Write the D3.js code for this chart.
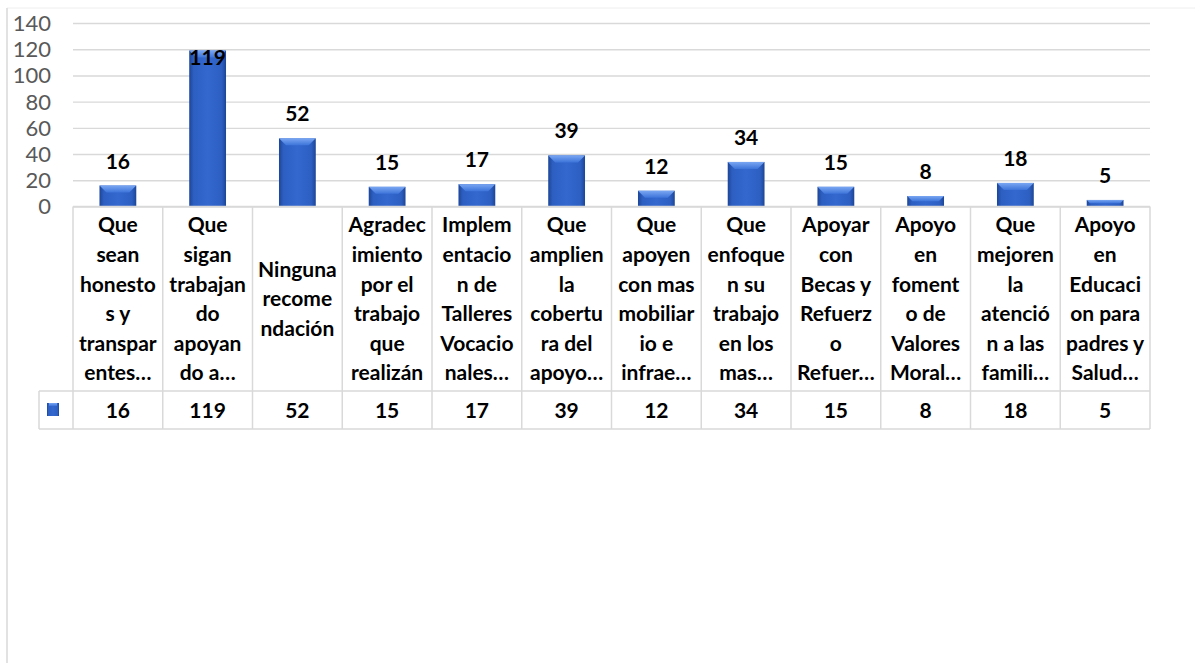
<!DOCTYPE html>
<html>
<head>
<meta charset="utf-8">
<script src="https://cdn.jsdelivr.net/npm/d3@7"></script>
<style>
  html, body { margin: 0; padding: 0; background: #fff; }
  svg { display: block; font-family: Lato, "Open Sans", sans-serif; }
  .y.axis text { fill: #595959; font-size: 22px; font-family: Lato, "Open Sans", sans-serif; }
  .y.axis .domain { display: none; }
  .y.axis line { stroke: #d9d9d9; stroke-width: 1.4; }
  .cat { font-size: 21px; font-weight: bold; fill: #000; }
  .val { font-size: 21px; font-weight: bold; fill: #000; }
  .grid-line { stroke: #d9d9d9; stroke-width: 1.5; fill: none; }
</style>
</head>
<body>
<div id="chart"></div>
<script>
  // categories as they are wrapped and cut in the table header
  var categories = [
    ["Que", "sean", "honesto", "s y", "transpar", "entes…"],
    ["Que", "sigan", "trabajan", "do", "apoyan", "do a…"],
    ["Ninguna", "recome", "ndación"],
    ["Agradec", "imiento", "por el", "trabajo", "que", "realizán"],
    ["Implem", "entacio", "n de", "Talleres", "Vocacio", "nales…"],
    ["Que", "amplien", "la", "cobertu", "ra del", "apoyo…"],
    ["Que", "apoyen", "con mas", "mobiliar", "io e", "infrae…"],
    ["Que", "enfoque", "n su", "trabajo", "en los", "mas…"],
    ["Apoyar", "con", "Becas y", "Refuerz", "o", "Refuer…"],
    ["Apoyo", "en", "foment", "o de", "Valores", "Moral…"],
    ["Que", "mejoren", "la", "atenció", "n a las", "famili…"],
    ["Apoyo", "en", "Educaci", "on para", "padres y", "Salud…"]
  ];
  var values = [16, 119, 52, 15, 17, 39, 12, 34, 15, 8, 18, 5];
  var yTicks = [0, 20, 40, 60, 80, 100, 120, 140];

  var W = 1195, H = 663;
  var plot = {left: 73, right: 1150, top: 23, bottom: 206.5};
  var table = {top: 206.5, header: 391, bottom: 429, keyLeft: 39};

  var svg = d3.select("#chart").append("svg")
      .attr("width", W)
      .attr("height", H);

  // gradients for the bevelled bars
  var defs = svg.append("defs");
  var side = defs.append("linearGradient").attr("id", "barSide")
      .attr("x1", 0).attr("x2", 1).attr("y1", 0).attr("y2", 0);
  side.append("stop").attr("offset", "0%").attr("stop-color", "#1c4596");
  side.append("stop").attr("offset", "12%").attr("stop-color", "#2d5fc2");
  side.append("stop").attr("offset", "50%").attr("stop-color", "#3468cf");
  side.append("stop").attr("offset", "88%").attr("stop-color", "#2d5fc2");
  side.append("stop").attr("offset", "100%").attr("stop-color", "#1c4596");
  var topG = defs.append("linearGradient").attr("id", "barTop")
      .attr("x1", 0).attr("x2", 0).attr("y1", 0).attr("y2", 1);
  topG.append("stop").attr("offset", "0%").attr("stop-color", "#7aa6f2");
  topG.append("stop").attr("offset", "100%").attr("stop-color", "#3d74da");

  // outer chart border
  svg.append("line").attr("x1", 7).attr("x2", W).attr("y1", 8).attr("y2", 8)
      .attr("stroke", "#eeeeee").attr("stroke-width", 1);
  svg.append("line").attr("x1", 7).attr("x2", 7).attr("y1", 8).attr("y2", H)
      .attr("stroke", "#d9d9d9").attr("stroke-width", 1.5);

  //Creates scales
  var xScale = d3.scaleBand()
      .domain(d3.range(values.length))
      .range([plot.left, plot.right])
      .paddingInner(0.59)
      .paddingOuter(0.295);

  var yScale = d3.scaleLinear()
      .domain([0, 140])
      .range([plot.bottom, plot.top]);

  var yAxis = d3.axisLeft(yScale)
      .tickValues(yTicks)
      .tickSize(-(plot.right - plot.left))
      .tickPadding(22);

  svg.append("g")
      .attr("class", "y axis")
      .attr("transform", "translate(" + plot.left + ",0)")
      .call(yAxis)
      .selectAll("text")
      .attr("dy", "0.34em");

  // bars
  var bars = svg.append("g").selectAll("g.bar")
      .data(values)
      .enter().append("g")
      .attr("class", "bar");

  bars.append("rect")
      .attr("x", function(d, i) { return xScale(i); })
      .attr("y", function(d) { return yScale(d); })
      .attr("width", xScale.bandwidth())
      .attr("height", function(d) { return plot.bottom - yScale(d); })
      .attr("fill", "url(#barSide)");

  bars.append("path")
      .attr("d", function(d, i) {
        var x0 = xScale(i), x1 = x0 + xScale.bandwidth();
        var y0 = yScale(d);
        var b = Math.min(7, (plot.bottom - y0) / 2);
        return "M" + x0 + "," + y0 + "L" + x1 + "," + y0 +
          "L" + (x1 - b) + "," + (y0 + b) + "L" + (x0 + b) + "," + (y0 + b) + "Z";
      })
      .attr("fill", "url(#barTop)");

  // data labels, pushed inside the bar when there is no room above
  bars.append("text")
      .attr("class", "val")
      .attr("text-anchor", "middle")
      .attr("x", function(d, i) { return xScale(i) + xScale.bandwidth() / 2; })
      .attr("y", function(d) {
        var yTop = yScale(d);
        return (yTop - 32 < plot.top) ? yTop + 14 : yTop - 17;
      })
      .text(function(d) { return d; });

  // data table
  var colStep = (plot.right - plot.left) / values.length;
  var tbl = svg.append("g");

  tbl.append("line").attr("class", "grid-line")
      .attr("x1", plot.left).attr("x2", plot.right)
      .attr("y1", table.top).attr("y2", table.top);
  tbl.append("line").attr("class", "grid-line")
      .attr("x1", table.keyLeft).attr("x2", plot.right)
      .attr("y1", table.header).attr("y2", table.header);
  tbl.append("line").attr("class", "grid-line")
      .attr("x1", table.keyLeft).attr("x2", plot.right)
      .attr("y1", table.bottom).attr("y2", table.bottom);
  tbl.append("line").attr("class", "grid-line")
      .attr("x1", table.keyLeft).attr("x2", table.keyLeft)
      .attr("y1", table.header).attr("y2", table.bottom);

  tbl.selectAll("line.col")
      .data(d3.range(values.length + 1))
      .enter().append("line")
      .attr("class", "grid-line col")
      .attr("x1", function(i) { return plot.left + i * colStep; })
      .attr("x2", function(i) { return plot.left + i * colStep; })
      .attr("y1", table.top)
      .attr("y2", table.bottom);

  var lineH = 29.6;
  var headMid = (table.top + table.header) / 2;

  tbl.selectAll("text.cat")
      .data(categories)
      .enter().append("text")
      .attr("class", "cat")
      .attr("text-anchor", "middle")
      .each(function(lines, i) {
        var cx = xScale(i) + xScale.bandwidth() / 2;
        var y0 = headMid - (lines.length - 1) * lineH / 2;
        d3.select(this).selectAll("tspan")
          .data(lines)
          .enter().append("tspan")
          .attr("x", cx)
          .attr("y", function(l, j) { return y0 + j * lineH; })
          .attr("dy", "0.36em")
          .text(function(l) { return l; });
      });

  var rowMid = (table.header + table.bottom) / 2;
  tbl.selectAll("text.row")
      .data(values)
      .enter().append("text")
      .attr("class", "val row")
      .attr("text-anchor", "middle")
      .attr("x", function(d, i) { return xScale(i) + xScale.bandwidth() / 2; })
      .attr("y", rowMid)
      .attr("dy", "0.36em")
      .text(function(d) { return d; });

  // legend key in the table
  tbl.append("rect")
      .attr("x", 47).attr("y", rowMid - 7)
      .attr("width", 12).attr("height", 13)
      .attr("fill", "url(#barSide)");
  tbl.append("rect")
      .attr("x", 49).attr("y", rowMid - 7)
      .attr("width", 8).attr("height", 3)
      .attr("fill", "url(#barTop)");
</script>
</body>
</html>
